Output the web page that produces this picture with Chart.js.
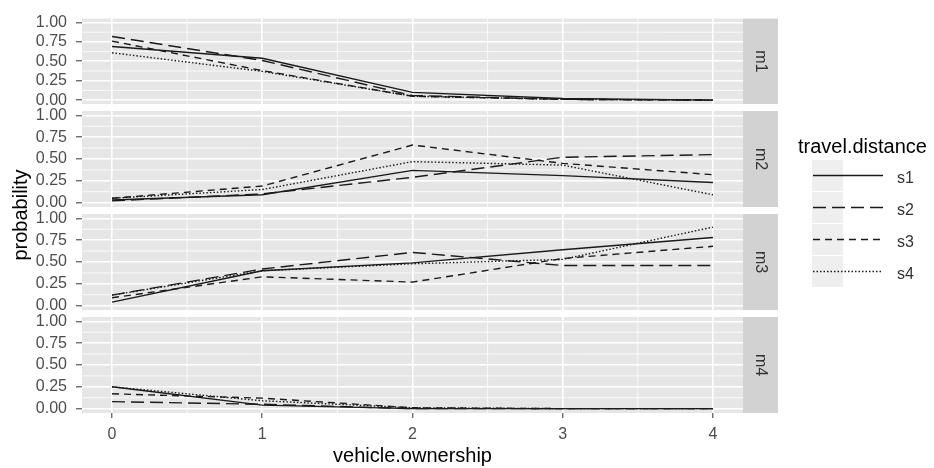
<!DOCTYPE html>
<html>
<head>
<meta charset="utf-8">
<title>probability by vehicle.ownership</title>
<script src="https://cdn.jsdelivr.net/npm/chart.js@4.4.1/dist/chart.umd.min.js"></script>
<style>
  body { margin: 0; background: #fff; }
  #wrap { position: relative; width: 934px; height: 468px; }
  #wrap canvas { position: absolute; left: 0; top: 0; }
</style>
</head>
<body>
<div id="wrap"></div>
<script>
// data
const vehicleOwnership = [0, 1, 2, 3, 4];
const travelDistance = ["s1", "s2", "s3", "s4"];
const modes = ["m1", "m2", "m3", "m4"];
const yTicks = [0, 0.25, 0.5, 0.75, 1];

// one row per travel distance (s1..s4)
const m1 = [
  [0.69, 0.54, 0.10, 0.02, 0.00],
  [0.82, 0.51, 0.06, 0.01, 0.00],
  [0.76, 0.38, 0.05, 0.01, 0.00],
  [0.61, 0.37, 0.05, 0.01, 0.00],
];
const m2 = [
  [0.03, 0.09, 0.37, 0.31, 0.23],
  [0.02, 0.10, 0.29, 0.52, 0.55],
  [0.05, 0.19, 0.66, 0.45, 0.32],
  [0.05, 0.15, 0.47, 0.43, 0.09],
];
const m3 = [
  [0.04, 0.40, 0.49, 0.64, 0.78],
  [0.12, 0.42, 0.61, 0.46, 0.46],
  [0.09, 0.33, 0.27, 0.54, 0.68],
  [0.12, 0.40, 0.48, 0.53, 0.90],
];
const m4 = [
  [0.25, 0.04, 0.00, 0.00, 0.00],
  [0.08, 0.05, 0.00, 0.00, 0.00],
  [0.17, 0.12, 0.01, 0.00, 0.00],
  [0.25, 0.09, 0.01, 0.00, 0.00],
];
const panels = [m1, m2, m3, m4];

// layout / style
const W = 934, H = 468;
const PANEL_L = 82, PANEL_R = 743, PANEL_H = 96;
const PANEL_TOPS = [8, 111, 214, 317];
const STRIP_W = 35;
const PANEL_BG = "#e6e6e6";
const STRIP_BG = "#d2d2d2";
const LINE = "#1a1a1a";
const LINE_W = 1.4;
const dashes = [[], [13, 6], [7, 5], [1.5, 2]];
const minorX = [0.5, 1.5, 2.5, 3.5];
const minorY = [0.125, 0.375, 0.625, 0.875];

Chart.defaults.font.family = "'Liberation Sans', Arial, sans-serif";

const wrap = document.getElementById("wrap");

const facetPlugin = {
  id: "facet",
  beforeDraw(chart) {
    const { ctx, chartArea: a, scales: { x, y } } = chart;
    ctx.save();
    ctx.fillStyle = PANEL_BG;
    ctx.fillRect(a.left, a.top, a.right - a.left, a.bottom - a.top);
    ctx.strokeStyle = "#fff";
    ctx.lineWidth = 0.8;
    ctx.beginPath();
    minorY.forEach(v => {
      const p = y.getPixelForValue(v);
      ctx.moveTo(a.left, p); ctx.lineTo(a.right, p);
    });
    minorX.forEach(v => {
      const p = x.getPixelForValue(v);
      ctx.moveTo(p, a.top); ctx.lineTo(p, a.bottom);
    });
    ctx.stroke();
    ctx.restore();
  },
  afterDraw(chart, args, opts) {
    const { ctx, chartArea: a } = chart;
    ctx.save();
    ctx.fillStyle = STRIP_BG;
    ctx.fillRect(a.right, a.top, STRIP_W, a.bottom - a.top);
    ctx.translate(a.right + STRIP_W / 2, (a.top + a.bottom) / 2);
    ctx.rotate(Math.PI / 2);
    ctx.fillStyle = "#333";
    ctx.font = "16px 'Liberation Sans', Arial, sans-serif";
    ctx.textAlign = "center";
    ctx.textBaseline = "middle";
    ctx.fillText(opts.label, 0, 0);
    ctx.restore();
  }
};

// y title + legend, drawn once on the last chart
const guidePlugin = {
  id: "guide",
  afterDraw(chart) {
    const { ctx } = chart;
    ctx.save();
    ctx.fillStyle = "#000";
    ctx.font = "20px 'Liberation Sans', Arial, sans-serif";
    ctx.textBaseline = "middle";
    ctx.textAlign = "center";
    ctx.translate(21, 215);
    ctx.rotate(-Math.PI / 2);
    ctx.fillText("probability", 0, 0);
    ctx.restore();

    ctx.save();
    ctx.fillStyle = "#000";
    ctx.font = "20px 'Liberation Sans', Arial, sans-serif";
    ctx.textBaseline = "middle";
    ctx.textAlign = "left";
    ctx.fillText("travel.distance", 798, 147);
    travelDistance.forEach((name, k) => {
      const top = 160 + k * 32;
      ctx.fillStyle = "#efefef";
      ctx.fillRect(812, top, 31, 31);
      ctx.strokeStyle = LINE;
      ctx.lineWidth = LINE_W;
      ctx.setLineDash(dashes[k]);
      ctx.beginPath();
      ctx.moveTo(813, top + 15.5);
      ctx.lineTo(883, top + 15.5);
      ctx.stroke();
      ctx.setLineDash([]);
      ctx.fillStyle = "#333";
      ctx.font = "16px 'Liberation Sans', Arial, sans-serif";
      ctx.fillText(name, 897, top + 19);
    });
    ctx.restore();
  }
};

panels.forEach((series, idx) => {
  const canvas = document.createElement("canvas");
  canvas.width = W;
  canvas.height = H;
  wrap.appendChild(canvas);
  const last = idx === panels.length - 1;
  const top = PANEL_TOPS[idx];
  const bottomSpace = H - (top + PANEL_H);

  new Chart(canvas.getContext("2d"), {
    type: "line",
    data: {
      datasets: series.map((vals, k) => ({
        label: travelDistance[k],
        data: vals.map((v, i) => ({ x: vehicleOwnership[i], y: v })),
        borderColor: LINE,
        borderWidth: LINE_W,
        borderDash: dashes[k],
        pointRadius: 0,
        tension: 0,
        fill: false,
      })),
    },
    options: {
      responsive: false,
      animation: false,
      devicePixelRatio: 1,
      layout: { padding: { top: top, left: 0, right: W - PANEL_R, bottom: 0 } },
      plugins: {
        legend: { display: false },
        tooltip: { enabled: false },
        facet: { label: modes[idx] },
      },
      scales: {
        x: {
          type: "linear",
          min: -0.2,
          max: 4.2,
          afterBuildTicks: s => { s.ticks = vehicleOwnership.map(v => ({ value: v })); },
          afterFit: s => { s.height = bottomSpace; },
          border: { display: false },
          grid: { color: "#fff", lineWidth: 1.6, drawTicks: last, tickLength: 5, tickColor: "#333", tickWidth: 1 },
          ticks: { display: last, autoSkip: false, maxRotation: 0, padding: 7, color: "#4d4d4d", font: { size: 16 } },
          title: {
            display: last,
            text: "vehicle.ownership",
            color: "#000",
            font: { size: 20 },
            padding: { top: 0, bottom: 0 },
          },
        },
        y: {
          min: -0.05,
          max: 1.05,
          afterBuildTicks: s => { s.ticks = yTicks.map(v => ({ value: v })); },
          afterFit: s => { s.width = PANEL_L; },
          border: { display: false },
          grid: { color: "#fff", lineWidth: 1.6, tickLength: 6, tickColor: "#333", tickWidth: 1 },
          ticks: {
            autoSkip: false,
            padding: 9,
            color: "#4d4d4d",
            font: { size: 16 },
            callback: v => Number(v).toFixed(2),
          },
        },
      },
    },
    plugins: last ? [facetPlugin, guidePlugin] : [facetPlugin],
  });
});
</script>
</body>
</html>
